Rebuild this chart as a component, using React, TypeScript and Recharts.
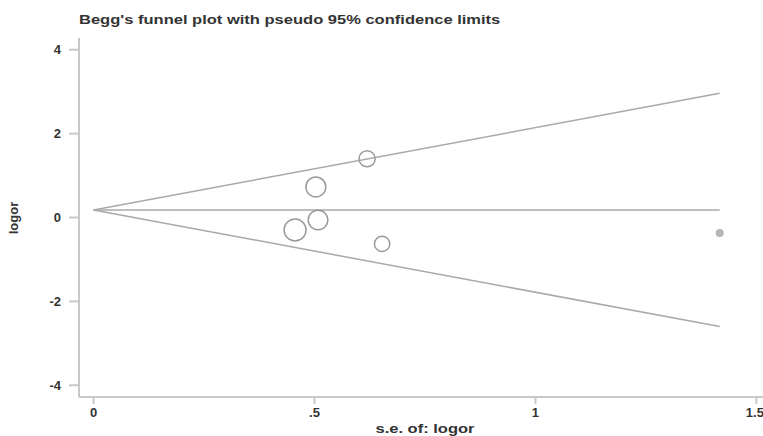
import { ScatterChart, Scatter, XAxis, YAxis } from "recharts";

// studies: standard error vs log odds ratio
const studySe = [0.456, 0.503, 0.508, 0.619, 0.653, 1.417];
const studyLogor = [-0.3, 0.73, -0.06, 1.4, -0.63, -0.37];

// pseudo 95% confidence limits
const limitSe = [0, 1.417];
const upperLimit = [0.18, 2.96];
const lowerLimit = [0.18, -2.6];
const pooledLine = [0.18, 0.18];

const xTicks = [0, 0.5, 1, 1.5];
const xTickLabels = ["0", ".5", "1", "1.5"];
const yTicks = [-4, -2, 0, 2, 4];

const studies = studySe.map((se, i) => ({ se, logor: studyLogor[i] }));
const toLine = (vals: number[]) => limitSe.map((se, i) => ({ se, logor: vals[i] }));

const font = "'Liberation Sans', Arial, sans-serif";
const lineColor = "#a9a9a9";
const axisColor = "#c8c8c8";
const textColor = "#333";

function StudyMarker(props: any) {
  const { cx, cy, payload } = props;
  const r = 5 / payload.se;
  const small = r < 5;
  return (
    <circle
      cx={cx}
      cy={cy}
      r={small ? 4 : r}
      fill={small ? "#b5b5b5" : "none"}
      stroke={small ? "none" : "#9a9a9a"}
      strokeWidth={1.5}
    />
  );
}

const NoMarker = () => <g />;

export default function App() {
  return (
    <div style={{ position: "absolute", left: 0, top: 0, width: 763, height: 436, background: "#fff", fontFamily: font }}>
      <div
        style={{
          position: "absolute",
          left: 79,
          top: 12,
          fontSize: 13,
          fontWeight: 700,
          color: textColor,
          whiteSpace: "nowrap",
          transform: "scaleX(1.27)",
          transformOrigin: "left top",
        }}
      >
        Begg's funnel plot with pseudo 95% confidence limits
      </div>
      <ScatterChart width={763} height={436} margin={{ top: 38, right: 0, bottom: 0, left: 0 }}>
        <XAxis
          type="number"
          dataKey="se"
          domain={[-0.033, 1.515]}
          allowDataOverflow
          ticks={xTicks}
          tickFormatter={(v: number) => xTickLabels[xTicks.indexOf(v)] ?? String(v)}
          height={39}
          tickSize={7}
          tickMargin={4}
          stroke={axisColor}
          strokeWidth={2}
          tick={{ fill: textColor, fontSize: 13, fontWeight: 700, fontFamily: font }}
          label={{
            content: () => (
              <text
                transform="translate(425 433) scale(1.27 1)"
                textAnchor="middle"
                fill={textColor}
                fontSize={13}
                fontWeight={700}
                fontFamily={font}
              >
                s.e. of: logor
              </text>
            ),
          }}
        />
        <YAxis
          type="number"
          dataKey="logor"
          domain={[-4.28, 4.28]}
          allowDataOverflow
          ticks={yTicks}
          width={79}
          tickSize={10}
          tickMargin={8}
          stroke={axisColor}
          strokeWidth={2}
          tick={{ fill: textColor, fontSize: 13, fontWeight: 700, fontFamily: font }}
          label={{
            content: () => (
              <text
                x={18}
                y={218}
                transform="rotate(-90 18 218)"
                textAnchor="middle"
                fill={textColor}
                fontSize={13}
                fontWeight={700}
                fontFamily={font}
              >
                logor
              </text>
            ),
          }}
        />
        <Scatter data={toLine(upperLimit)} line={{ stroke: lineColor, strokeWidth: 1.5 }} shape={NoMarker} isAnimationActive={false} />
        <Scatter data={toLine(lowerLimit)} line={{ stroke: lineColor, strokeWidth: 1.5 }} shape={NoMarker} isAnimationActive={false} />
        <Scatter data={toLine(pooledLine)} line={{ stroke: lineColor, strokeWidth: 1.5 }} shape={NoMarker} isAnimationActive={false} />
        <Scatter data={studies} shape={StudyMarker} isAnimationActive={false} />
      </ScatterChart>
    </div>
  );
}
